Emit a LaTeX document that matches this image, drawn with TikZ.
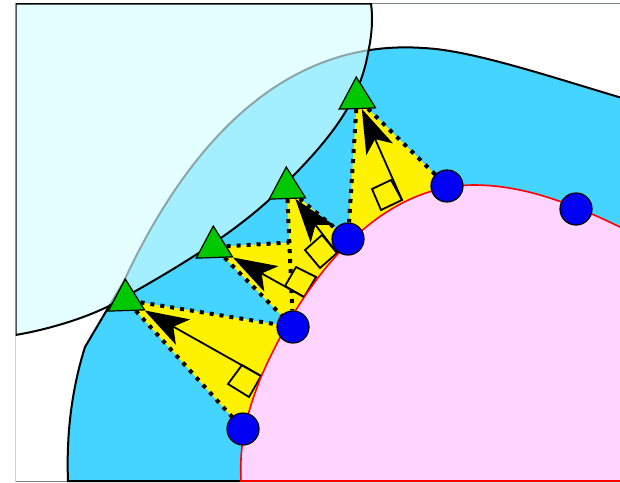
\documentclass[tikz,border=0pt]{standalone}
\usepackage{xcolor}
\usetikzlibrary{arrows.meta,backgrounds,shapes.geometric}
\definecolor{bandc}{RGB}{69,211,255}
\definecolor{innerc}{RGB}{255,212,255}
\definecolor{palec}{RGB}{214,255,255}
\definecolor{triy}{RGB}{255,242,0}
\definecolor{apexc}{RGB}{0,200,0}
\definecolor{footc}{RGB}{0,0,245}
\definecolor{framec}{RGB}{120,130,130}
\tikzset{
  apex/.style={regular polygon, regular polygon sides=3, regular polygon rotate=2, draw=black, line width=1.2pt, fill=apexc, minimum size=42pt, inner sep=0pt},
  foot/.style={circle, draw=black, line width=1.2pt, fill=footc, minimum size=32pt, inner sep=0pt},
  dots/.style={line width=4pt, dash pattern=on 4pt off 6pt},
  normal/.style={line width=1.8pt, -{Stealth[length=44pt,width=29pt,inset=11pt]}},
  mark90/.style={line width=1.8pt, fill=triy}
}
\begin{document}
\begin{tikzpicture}[x=1pt,y=-1pt]
  \useasboundingbox (0,0) rectangle (620,482);
  % sample points
  \node[foot] (p1) at (243,429) {};
  \node[foot] (p2) at (293,327) {};
  \node[foot] (p3) at (348,239) {};
  \node[foot] (p4) at (447,186) {};
  \node[foot] (p5) at (576,209) {};
  % projected points
  \node[apex] (t1) at (126,300) {};
  \node[apex] (t2) at (214,247) {};
  \node[apex] (t3) at (287,188) {};
  \node[apex] (t4) at (357,98) {};
  \coordinate (f1) at (261,376);
  \coordinate (f2) at (304,297);
  \coordinate (f3) at (337,253);
  \coordinate (f4) at (402,200);
  \foreach \i in {1,2,3,4} { \draw[normal] (f\i) -- (t\i); }
  \begin{pgfonlayer}{background}
    \clip (15.5,3) rectangle (620,482);
    \draw[framec, thick] (15.5,3.5) rectangle (620,481);
    % band
    \draw[fill=bandc, line width=2pt] (68,481) .. controls (66,430) and (73,385) .. (85,347) -- (124,281) .. controls (185,150) and (280,38) .. (423,48) .. controls (470,50) and (545,75) .. (622,98) -- (622,481) -- cycle;
    % yellow
    \foreach \a/\b/\c in {t1/p1/p2, t2/p2/p3, t3/p2/p3, t4/p3/p4} {
      \fill[triy] (\a.center) -- (\b.center) -- (\c.center) -- cycle;
      \draw[dots] (\a) -- (\b);
      \draw[dots] (\a) -- (\c);
    }
    \draw[mark90] (261,376) -- (242,365) -- (228,384) -- (249,397) -- cycle;
    \draw[mark90] (304,297) -- (285,286) -- (296,267) -- (316,277) -- cycle;
    \draw[mark90] (337,253) -- (322,235) -- (305,250) -- (320,268) -- cycle;
    \draw[mark90] (402,200) -- (391,180) -- (372,189) -- (381,210) -- cycle;
    % inside
    \draw[fill=innerc, draw=red, line width=1.6pt] (241,481) .. controls (239,440) and (248,410) .. (261,377) .. controls (310,265) and (385,185) .. (474,185) .. controls (525,185) and (575,205) .. (622,228) -- (622,481) -- cycle;
    % pale part
    \draw[fill=palec, fill opacity=.65, line width=2pt] (15.5,335) .. controls (45,330) and (80,320) .. (107,307) .. controls (165,275) and (225,240) .. (269,200) .. controls (320,150) and (358,110) .. (368,53) .. controls (372,35) and (373,18) .. (371,3.5) -- (15.5,3.5) -- cycle;
  \end{pgfonlayer}
\end{tikzpicture}
\end{document}
